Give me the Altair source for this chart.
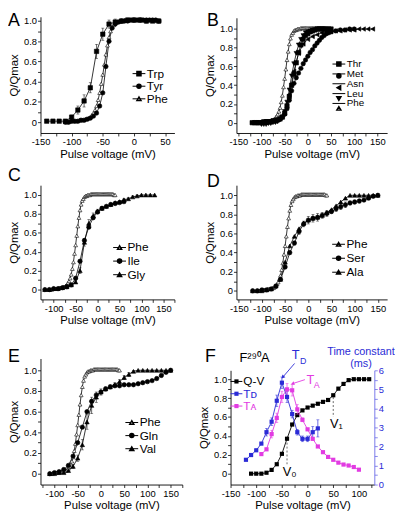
import altair as alt
import pandas as pd

FONT = "Liberation Sans"
BLUE = "#2b2bd6"
MAGENTA = "#e23be2"
AXBLUE = "#6b6be8"

# ---------------- data ----------------
# wild-type-like reference curve (open triangles), shown in A-E
PHE_V = [x / 2 for x in range(-220, 81, 5)]
PHE_Q = [0.00, 0.00, 0.00, 0.01, 0.01, 0.01, 0.01, 0.01, 0.01, 0.02,
         0.02, 0.02, 0.02, 0.03, 0.03, 0.04, 0.05, 0.07, 0.09, 0.12,
         0.16, 0.22, 0.29, 0.38, 0.47, 0.57, 0.67, 0.76, 0.84, 0.90,
         0.94, 0.96, 0.98, 0.99, 0.99, 1.00, 1.00, 1.00, 1.01, 1.01,
         1.01, 1.01, 1.01, 1.01, 1.01, 1.01, 1.01, 1.01, 1.01, 1.01,
         1.01, 1.01, 1.01, 1.01, 1.01, 1.01, 1.01, 1.01, 1.01, 1.00,
         1.00]

# panel A
TRP_V = list(range(-140, 41, 10))
TRP_Q = [0.01, 0.01, 0.01, 0.01, 0.05, 0.12, 0.21, 0.34, 0.70, 0.87,
         0.97, 0.99, 1.00, 1.01, 1.01, 1.01, 1.00, 1.00, 1.00]
TRP_E = [0.00, 0.00, 0.00, 0.01, 0.02, 0.04, 0.06, 0.05, 0.07, 0.06,
         0.04, 0.03, 0.02, 0.02, 0.02, 0.02, 0.02, 0.01, 0.01]
TYR_V = list(range(-110, 41, 5))
TYR_Q = [0.00, 0.00, 0.01, 0.01, 0.01, 0.02, 0.02, 0.03, 0.04, 0.06,
         0.09, 0.16, 0.29, 0.55, 0.80, 0.93, 0.97, 0.99, 1.00, 1.00,
         1.00, 1.01, 1.01, 1.01, 1.01, 1.01, 1.01, 1.01, 1.01, 1.01, 1.00]

# panel B
THR_V = list(range(-120, 51, 5))
THR_Q = [0.00, 0.00, 0.00, 0.00, 0.00, 0.01, 0.01, 0.01, 0.01, 0.02,
         0.02, 0.03, 0.04, 0.06, 0.10, 0.18, 0.28, 0.40, 0.52, 0.64,
         0.75, 0.83, 0.89, 0.93, 0.95, 0.97, 0.98, 0.99, 1.00, 1.00,
         1.00, 1.00, 1.00, 1.00, 1.00]
MET_V = [-110, -100, -90, -80, -70, -60, -55, -50, -45, -40, -35, -30, -25, -20,
         -15, -10, -5, 0, 5, 10, 15, 20, 25, 30, 35, 40, 45, 50, 60, 70, 80, 90, 100]
MET_Q = [0.00, 0.00, 0.01, 0.01, 0.02, 0.04, 0.06, 0.09, 0.15, 0.24, 0.34, 0.42,
         0.48, 0.53, 0.58, 0.63, 0.67, 0.71, 0.75, 0.78, 0.82, 0.85, 0.88, 0.91,
         0.93, 0.95, 0.96, 0.97, 0.98, 0.99, 0.99, 1.00, 1.00]
ASN_V = list(range(-120, 141, 10))
ASN_Q = [0.00, 0.00, 0.00, 0.00, 0.01, 0.02, 0.05, 0.12, 0.30, 0.55,
         0.74, 0.84, 0.89, 0.92, 0.94, 0.96, 0.97, 0.97, 0.98, 0.98,
         0.99, 0.99, 0.99, 1.00, 1.00, 1.00, 1.00]
LEU_V = list(range(-100, 41, 5))
LEU_Q = [-0.02, -0.02, -0.02, -0.01, -0.01, 0.00, 0.00, 0.01, 0.03, 0.06,
         0.12, 0.22, 0.35, 0.50, 0.63, 0.74, 0.83, 0.89, 0.93, 0.96,
         0.97, 0.98, 0.99, 0.99, 1.00, 1.00, 1.00, 1.00, 1.00]

# panel C
ILE_V = list(range(-120, 61, 10))
ILE_Q = [0.00, 0.00, 0.01, 0.01, 0.02, 0.03, 0.05, 0.12, 0.30, 0.52,
         0.66, 0.76, 0.82, 0.86, 0.88, 0.90, 0.91, 0.92, 0.93]
GLY_V = list(range(-120, 131, 10))
GLY_Q = [0.00, 0.00, 0.01, 0.01, 0.02, 0.03, 0.05, 0.08, 0.20, 0.50,
         0.70, 0.78, 0.83, 0.86, 0.88, 0.90, 0.92, 0.93, 0.95, 0.96,
         0.98, 0.99, 1.00, 1.00, 1.00, 1.00]
GLY_E = [0, 0, 0, 0, 0, 0, 0, 0.01, 0.03, 0.04, 0.04, 0.03, 0.02, 0.02, 0.01,
         0.01, 0.01, 0.01, 0.01, 0.01, 0.01, 0.01, 0, 0, 0, 0]

# panel D
SER_V = list(range(-120, 151, 10))
SER_Q = [0.00, 0.00, 0.01, 0.01, 0.02, 0.05, 0.12, 0.25, 0.40, 0.50,
         0.62, 0.70, 0.74, 0.76, 0.77, 0.79, 0.81, 0.83, 0.86, 0.88,
         0.90, 0.92, 0.93, 0.94, 0.95, 0.97, 0.99, 1.00]
SER_E = [0, 0, 0, 0, 0, 0, 0.01, 0.02, 0.02, 0.02, 0.03, 0.03, 0.04, 0.04,
         0.04, 0.03, 0.03, 0.02, 0.03, 0.03, 0.03, 0.02, 0.02, 0.02, 0.01, 0.01, 0.01, 0]
ALA_V = list(range(-120, 151, 10))
ALA_Q = [0.00, 0.00, 0.00, 0.01, 0.02, 0.05, 0.12, 0.30, 0.47, 0.57,
         0.65, 0.71, 0.74, 0.76, 0.77, 0.79, 0.82, 0.85, 0.89, 0.93,
         0.97, 1.00, 1.00, 1.00, 1.00, 1.00, 1.00, 1.00]

# panel E
GLN_V = list(range(-110, 151, 10))
GLN_Q = [0.00, 0.01, 0.02, 0.04, 0.08, 0.17, 0.30, 0.45, 0.60, 0.70,
         0.76, 0.79, 0.82, 0.84, 0.85, 0.85, 0.86, 0.86, 0.86, 0.87,
         0.88, 0.89, 0.90, 0.92, 0.95, 0.98, 1.00]
VAL_V = list(range(-110, 151, 10))
VAL_Q = [0.00, 0.00, 0.01, 0.01, 0.03, 0.07, 0.15, 0.28, 0.50, 0.66,
         0.74, 0.79, 0.82, 0.84, 0.86, 0.89, 0.93, 0.96, 0.99, 1.00,
         1.00, 1.00, 1.00, 1.00, 1.00, 1.00, 1.00]
VAL_E = [0, 0, 0, 0, 0.01, 0.02, 0.03, 0.05, 0.07, 0.08, 0.05, 0.03, 0.02, 0.02,
         0.02, 0.02, 0.02, 0.02, 0.01, 0, 0, 0, 0, 0, 0, 0, 0]

# panel F (F290A)
QV_V = list(range(-110, 121, 10))
QV_Q = [0.00, 0.00, 0.00, 0.01, 0.04, 0.10, 0.21, 0.37, 0.52, 0.62,
        0.67, 0.70, 0.72, 0.74, 0.76, 0.78, 0.83, 0.90, 0.95, 0.99,
        1.00, 1.00, 1.00, 1.00]
TD_V = list(range(-120, 21, 10))
TD_T = [1.30, 1.55, 1.80, 2.15, 2.75, 3.30, 4.40, 5.35, 4.60, 3.70, 2.75, 2.40, 2.40, 2.75, 2.95]
TD_E = [0, 0, 0, 0, 0.2, 0.2, 0.3, 0.3, 0.3, 0.2, 0.15, 0.15, 0.15, 0.3, 0.45]
TA_V = list(range(-90, 101, 10))
TA_T = [1.60, 1.85, 2.65, 3.50, 4.60, 5.00, 4.95, 3.95, 3.40, 2.90,
        2.40, 2.00, 1.70, 1.45, 1.30, 1.15, 1.05, 1.00, 0.92, 0.78]
TA_E = [0, 0, 0.2, 0.25, 0.3, 0.3, 0.3, 0.25, 0.1, 0, 0, 0, 0, 0, 0, 0, 0, 0, 0, 0]

# ---------------- styling helpers ----------------
XLAB = "datum.value % 50 == 0 ? (datum.value < 0 ? '-' : '') + abs(datum.value) : ''"
YLAB = ("round(datum.value * 10) % 2 == 0 ? "
        "(abs(datum.value) < 0.001 ? '0' : format(datum.value, '.1f')) : ''")

AX = dict(grid=False, tickSize=3, tickWidth=0.8, tickColor="black", domainColor="black",
          domainWidth=0.9, labelFont=FONT, labelFontSize=9.5, labelColor="black",
          labelPadding=1, labelFlush=False, labelOverlap=False, titleFont=FONT,
          titleFontSize=11.5, titleFontWeight="normal", titleColor="black")


def x_axis(xdom):
    vals = [t for t in range(-150, 176, 25) if xdom[0] - 0.01 <= t <= xdom[1] + 0.01]
    return alt.Axis(values=vals, labelExpr=XLAB, title="Pulse voltage (mV)",
                    titlePadding=2, **AX)


def y_axis(offset=0):
    return alt.Axis(values=[i / 10 for i in range(11)], labelExpr=YLAB, title="Q/Qmax",
                    titlePadding=4, offset=offset, **AX)


def letter(text, dx, off):
    return alt.TitleParams(text=text, anchor="start", frame="group", orient="top",
                           baseline="top", dx=dx, offset=off, fontSize=18, font=FONT,
                           fontWeight="normal", color="black")


def sdf(name, v, q, e=None):
    return pd.DataFrame({"v": v, "q": q,
                         "e": e if e is not None else [0.0] * len(v),
                         "sl": name, "sp": "p_" + name})


def panel(series, xdom, ydom, w, h, let, leg, ymax=None):
    names = [s[0] for s in series]
    pnames = ["p_" + n for n in names]
    df = pd.concat([sdf(n, v, q, e) for (n, v, q, e, _, _) in series], ignore_index=True)
    xs = alt.Scale(domain=xdom, nice=False, zero=False)
    ykw = dict(domain=ydom, nice=False, zero=False)
    if ymax:
        ykw["rangeMax"] = ymax
    ys = alt.Scale(**ykw)
    xa = x_axis(xdom)
    ya = y_axis()
    lx, ly, fs, rp, lo, half = leg
    line_leg = alt.Legend(orient="none", legendX=lx, legendY=ly, title=None,
                          direction="vertical", symbolType=f"M-{half},0H{half}",
                          symbolSize=25, symbolStrokeWidth=1, labelFont=FONT,
                          labelFontSize=fs, labelColor="black", labelOffset=lo,
                          rowPadding=rp, padding=0)
    pt_leg = alt.Legend(orient="none", legendX=lx, legendY=ly, title=None,
                        direction="vertical", symbolSize=17,
                        labelFont=FONT, labelFontSize=fs,
                        labelExpr="''", rowPadding=rp, padding=0)
    stroke = alt.Stroke("sl:N", scale=alt.Scale(domain=names, range=["black"] * len(names)),
                        legend=line_leg)
    shape = alt.Shape("sp:N", scale=alt.Scale(domain=pnames, range=[s[4] for s in series]),
                      legend=pt_leg)
    fill = alt.Fill("sp:N", scale=alt.Scale(domain=pnames, range=[s[5] for s in series]),
                    legend=pt_leg)
    base = alt.Chart(df)
    X = alt.X("v:Q", scale=xs, axis=xa)
    lines = base.mark_line(strokeWidth=0.8).encode(
        x=X, y=alt.Y("q:Q", scale=ys, axis=ya), stroke=stroke)
    errs = base.transform_filter("datum.e > 0").transform_calculate(
        lo="datum.q - datum.e", hi="datum.q + datum.e").mark_errorbar(
        ticks=True, size=3, thickness=0.6, color="black").encode(
        x=X, y=alt.Y("lo:Q", scale=ys, axis=ya), y2="hi:Q")
    phe = base.transform_filter("datum.sl == 'Phe'").mark_point(
        filled=True, opacity=1, size=15, stroke="black", strokeWidth=0.6).encode(
        x=X, y=alt.Y("q:Q", scale=ys, axis=ya), shape=shape, fill=fill)
    oth = base.transform_filter("datum.sl != 'Phe'").mark_point(
        filled=True, opacity=1, size=20, stroke="black", strokeWidth=0.6).encode(
        x=X, y=alt.Y("q:Q", scale=ys, axis=ya), shape=shape, fill=fill)
    return alt.layer(lines, errs, phe, oth).properties(width=w, height=h, title=let)


PHE = ("Phe", PHE_V, PHE_Q, None, "triangle-up", "white")

A = panel([("Trp", TRP_V, TRP_Q, TRP_E, "square", "black"),
           ("Tyr", TYR_V, TYR_Q, None, "circle", "black"), PHE],
          [-150, 65], [-0.107, 1.042], 136, 118, letter("A", -33, -14.5),
          (94, 51.7, 12, 0.8, 2, 2.6))
B = panel([("Thr", THR_V, THR_Q, None, "square", "black"),
           ("Met", MET_V, MET_Q, None, "circle", "black"),
           ("Asn", ASN_V, ASN_Q, None, "triangle-left", "black"),
           ("Leu", LEU_V, LEU_Q, None, "triangle-down", "black"), PHE],
          [-154, 171], [-0.11, 1.12], 153, 118, letter("B", -30, -13.4),
          (99, 43, 10, 0, 3, 2.6), ymax=1)
C = panel([PHE, ("Ile", ILE_V, ILE_Q, None, "circle", "black"),
           ("Gly", GLY_V, GLY_Q, GLY_E, "triangle-up", "black")],
          [-130, 175], [-0.104, 1.104], 136, 116, letter("C", -33, 0.4),
          (74.3, 57.3, 12, 1.8, 2, 2.6))
D = panel([PHE, ("Ser", SER_V, SER_Q, SER_E, "circle", "black"),
           ("Ala", ALA_V, ALA_Q, None, "triangle-up", "black")],
          [-155, 170], [-0.09, 1.106], 153, 116, letter("D", -30, -5.8),
          (97.7, 54, 12, 2.2, 2, 2.6))
E = panel([PHE, ("Gln", GLN_V, GLN_Q, None, "circle", "black"),
           ("Val", VAL_V, VAL_Q, VAL_E, "triangle-up", "black")],
          [-130, 175], [-0.105, 1.114], 144, 135, letter("E", -33, -15),
          (86.7, 66, 12, 1.3, 2, 2.6), ymax=7)


def panel_F():
    xs = alt.Scale(domain=[-150, 130], nice=False, zero=False, rangeMin=-6)
    ysl = alt.Scale(domain=[-0.115, 1.094], nice=False, zero=False, rangeMax=19)
    ysr = alt.Scale(domain=[0, 6], nice=False, zero=False, rangeMax=19)
    xa = x_axis([-150, 130])
    la = y_axis(offset=6)
    names = ["QV", "TD", "TA"]
    pnames = ["p_" + n for n in names]
    colors = ["black", BLUE, MAGENTA]
    line_leg = alt.Legend(
        orient="none", legendX=-6, legendY=24.3, title=None, direction="vertical",
        symbolType="M-2.4,0H2.4", symbolSize=25, symbolStrokeWidth=1, labelFont=FONT,
        labelFontSize=12, labelOffset=1, rowPadding=0.5, padding=0,
        labelExpr="datum.value == 'QV' ? 'Q-V' : datum.value == 'TD' ? 'Tᴅ' : 'Tᴀ'",
        labelColor=alt.ExprRef(expr=f"datum.value == 'QV' ? 'black' : datum.value == 'TD' ? '{BLUE}' : '{MAGENTA}'"))
    pt_leg = alt.Legend(orient="none", legendX=-6, legendY=24.3, title=None,
                        direction="vertical", symbolSize=18, symbolStrokeWidth=0,
                        labelFont=FONT, labelFontSize=12, labelExpr="''",
                        rowPadding=0.5, padding=0)
    stroke = alt.Stroke("sl:N", scale=alt.Scale(domain=names, range=colors), legend=line_leg)
    shape = alt.Shape("sp:N", scale=alt.Scale(domain=pnames, range=["square"] * 3), legend=pt_leg)
    fill = alt.Fill("sp:N", scale=alt.Scale(domain=pnames, range=colors), legend=pt_leg)

    qv = sdf("QV", QV_V, QV_Q)
    tau = pd.concat([sdf("TD", TD_V, TD_T, TD_E), sdf("TA", TA_V, TA_T, TA_E)],
                    ignore_index=True)

    def X(f="v"):
        return alt.X(f"{f}:Q", scale=xs, axis=xa)

    def YL(f):
        return alt.Y(f"{f}:Q", scale=ysl, axis=la)

    r_axis = alt.Axis(
        orient="right", values=[i / 2 for i in range(13)],
        labelExpr="datum.value % 1 == 0 ? '' + datum.value : ''",
        title=["Time constant", "(ms)"], titleAngle=0, titleX=-14, titleY=-6,
        titleAlign="center", titleBaseline="top", titleLineHeight=12,
        grid=False, tickSize=3, tickWidth=0.8, tickColor=AXBLUE, domainColor=AXBLUE,
        domainWidth=0.9, labelFont=FONT, labelFontSize=9.5, labelColor=BLUE,
        labelPadding=1, labelFlush=False, labelOverlap=False, titleFont=FONT,
        titleFontSize=11, titleFontWeight="normal", titleColor=BLUE)

    def YR(f):
        return alt.Y(f"{f}:Q", scale=ysr, axis=r_axis)

    # ----- left (Q/Qmax) -----
    qline = alt.Chart(qv).mark_line(strokeWidth=0.9).encode(x=X(), y=YL("q"), stroke=stroke)
    qpts = alt.Chart(qv).mark_point(filled=True, opacity=1, size=18, strokeWidth=0).encode(
        x=X(), y=YL("q"), shape=shape, fill=fill)
    dash_df = pd.DataFrame({"x": [-40, 50], "y1": [0.37, 0.81], "y2": [0.10, 0.60]})
    dash = alt.Chart(dash_df).mark_rule(strokeDash=[2, 2], color="#444444",
                                        strokeWidth=0.8).encode(
        x=X("x"), y=YL("y1"), y2="y2:Q")
    vt_df = pd.DataFrame({"x": [-48.3, 43.5], "y": [0.016, 0.526], "t": ["V₀", "V₁"]})
    vtxt = alt.Chart(vt_df).mark_text(align="left", baseline="middle", font=FONT,
                                      fontSize=13, color="black").encode(
        x=X("x"), y=YL("y"), text="t:N")
    left = alt.layer(qline, dash, qpts, vtxt)

    # ----- right (time constants) -----
    tline = alt.Chart(tau).mark_line(strokeWidth=0.9).encode(x=X(), y=YR("q"), stroke=stroke)

    def err(name, color):
        return alt.Chart(tau).transform_filter(
            f"datum.sl == '{name}' && datum.e > 0").transform_calculate(
            lo="datum.q - datum.e", hi="datum.q + datum.e").mark_errorbar(
            ticks=True, size=3, thickness=0.7, color=color).encode(
            x=X(), y=YR("lo"), y2="hi:Q")

    tpts = alt.Chart(tau).mark_point(filled=True, opacity=1, size=18, strokeWidth=0).encode(
        x=X(), y=YR("q"), shape=shape, fill=fill)

    def arrow(x1, y1, x2, y2, color, ang):
        d = pd.DataFrame({"x": [x1], "y": [y1], "x2": [x2], "y2": [y2]})
        r = alt.Chart(d).mark_rule(color=color, strokeWidth=0.9).encode(
            x=X("x"), y=YR("y"), x2="x2:Q", y2="y2:Q")
        hd = alt.Chart(d).mark_point(shape="triangle-up", filled=True, opacity=1, size=16,
                                     angle=ang, color=color).encode(
            x=X("x2"), y=YR("y2"))
        return [r, hd]

    def txt(x, y, t, size, color):
        d = pd.DataFrame({"x": [x], "y": [y], "t": [t]})
        return alt.Chart(d).mark_text(align="left", baseline="middle", font=FONT,
                                      fontSize=size, color=color).encode(
            x=X("x"), y=YR("y"), text="t:N")

    right = alt.layer(
        tline, err("TD", BLUE), err("TA", MAGENTA), tpts,
        *arrow(-25.3, 6.36, -48.3, 5.64, BLUE, 220),
        *arrow(-5.2, 5.51, -29.2, 5.30, MAGENTA, 252),
        txt(-31.0, 6.78, "T", 13, BLUE), txt(-14.8, 6.5, "D", 9, BLUE),
        txt(-2.3, 5.48, "T", 13, MAGENTA), txt(12.1, 5.22, "A", 9, MAGENTA),
        txt(-132.7, 6.62, "F²⁹⁰A", 13, "black"))

    return alt.layer(left, right).resolve_scale(y="independent").properties(
        width=140, height=135, title=letter("F", -32, -21))


F = panel_F()

chart = alt.concat(
    A, B, C, D, E, F, columns=2, spacing={"row": 53, "column": 55},
    bounds="flush", align="each"
).resolve_scale(
    stroke="independent", shape="independent", fill="independent"
).properties(
    padding={"left": 0, "top": 0, "right": 0, "bottom": 0}, background="white"
).configure_view(stroke=None)

chart.save("out.html", embed_options={"renderer": "svg", "actions": False})
